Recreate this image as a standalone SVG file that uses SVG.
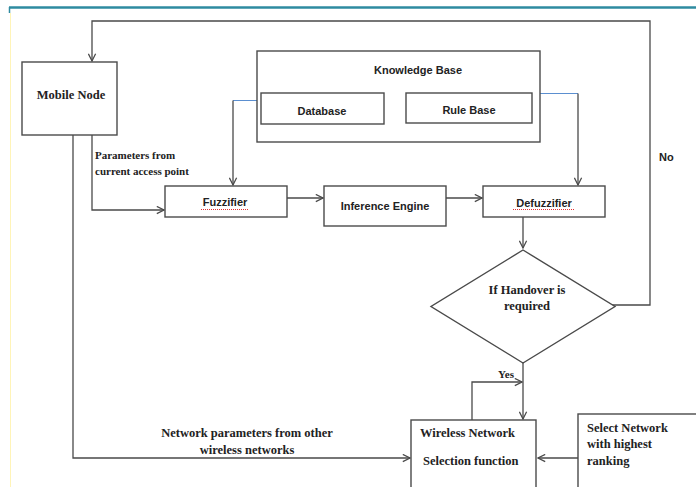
<svg xmlns="http://www.w3.org/2000/svg" width="696" height="487" viewBox="0 0 696 487">
<style>
.box{fill:#fff;stroke:#4a4a4a;stroke-width:1.4}
.ln{fill:none;stroke:#4a4a4a;stroke-width:1.3}
.bl{fill:none;stroke:#5b8fd0;stroke-width:1}
.cal{font-family:"Liberation Sans",Arial,sans-serif;font-weight:bold;font-size:11px;fill:#222}
.tm{font-family:"Liberation Serif","Times New Roman",serif;font-weight:bold;font-size:12.5px;fill:#222}
.sq{fill:none;stroke:#e03030;stroke-width:1;stroke-dasharray:1 1}
</style>
<defs>
<marker id="arr" viewBox="0 0 10 10" refX="9" refY="5" markerWidth="9" markerHeight="9" markerUnits="userSpaceOnUse" orient="auto">
<polyline points="1,1 9,5 1,9" fill="none" stroke="#4a4a4a" stroke-width="1.4"/>
</marker>
</defs>
<rect width="696" height="487" fill="#fff"/>
<line x1="9" y1="7.5" x2="696" y2="7.5" stroke="#2e8ba0" stroke-width="2.5"/>
<line x1="9.5" y1="7" x2="9.5" y2="13" stroke="#2e8ba0" stroke-width="1.5"/>
<line x1="10.5" y1="13" x2="10.5" y2="487" stroke="#fff4b8" stroke-width="1"/>

<g id="connectors">
<path class="ln" d="M612 305 H650 V21 H92 V61" marker-end="url(#arr)"/>
<path class="bl" d="M257 100.5 H233"/>
<path class="ln" d="M233 100.5 V185" marker-end="url(#arr)"/>
<path class="bl" d="M540 93.5 H578"/>
<path class="ln" d="M578 93.5 V185" marker-end="url(#arr)"/>
<path class="ln" d="M287 198 H323" marker-end="url(#arr)"/>
<path class="ln" d="M446 198 H482" marker-end="url(#arr)"/>
<path class="ln" d="M523 217 V248" marker-end="url(#arr)"/>
<path class="ln" d="M92 135 V210 H164" marker-end="url(#arr)"/>
<path class="ln" d="M73 135 V458 H410" marker-end="url(#arr)"/>
<path class="ln" d="M523 363 V419" marker-end="url(#arr)"/>
<path class="ln" d="M472 420 V382 H522" marker-end="url(#arr)"/>
<path class="ln" d="M578 458 H538" marker-end="url(#arr)"/>
<text class="tm" x="95" y="159" style="font-size:11px">Parameters from</text>
<text class="tm" x="95" y="175" style="font-size:11px">current access point</text>
<text class="tm" x="247" y="437" text-anchor="middle" style="font-size:12.5px">Network parameters from other</text>
<text class="tm" x="247" y="454" text-anchor="middle" style="font-size:12.5px">wireless networks</text>
<text class="cal" x="659" y="161">No</text>
<text class="tm" x="506" y="378" text-anchor="middle" style="font-size:11px">Yes</text>
</g>

<g id="mobile-node">
<rect class="box" x="22" y="62" width="95" height="73"/>
<text class="tm" x="71" y="99" text-anchor="middle">Mobile Node</text>
</g>

<g id="knowledge-base">
<rect class="box" x="257" y="51" width="283" height="91"/>
<text class="cal" x="418" y="74" text-anchor="middle">Knowledge Base</text>
</g>

<g id="database">
<rect class="box" x="261" y="93" width="123" height="31"/>
<text class="cal" x="322" y="115" text-anchor="middle">Database</text>
</g>

<g id="rule-base">
<rect class="box" x="406" y="93" width="126" height="30"/>
<text class="cal" x="469" y="114" text-anchor="middle">Rule Base</text>
</g>

<g id="fuzzifier">
<rect class="box" x="165" y="186" width="122" height="31"/>
<text class="cal" x="225" y="206" text-anchor="middle">Fuzzifier</text>
<line class="sq" x1="201" y1="209.5" x2="249" y2="209.5"/>
</g>

<g id="inference-engine">
<rect class="box" x="324" y="186" width="122" height="40"/>
<text class="cal" x="385" y="210" text-anchor="middle">Inference Engine</text>
</g>

<g id="defuzzifier">
<rect class="box" x="483" y="186" width="122" height="31"/>
<text class="cal" x="544" y="207" text-anchor="middle">Defuzzifier</text>
<line class="sq" x1="513" y1="209.5" x2="575" y2="209.5"/>
</g>

<g id="handover-decision">
<polygon class="box" points="523,250 615,306.5 523,363 431,306.5"/>
<text class="tm" x="527" y="294" text-anchor="middle">If Handover is</text>
<text class="tm" x="527" y="310" text-anchor="middle">required</text>
</g>

<g id="wireless-selection">
<rect class="box" x="411" y="420" width="125" height="75"/>
<text class="tm" x="420" y="437">Wireless Network</text>
<text class="tm" x="423" y="465">Selection function</text>
</g>

<g id="select-network">
<rect class="box" x="578" y="414" width="125" height="80"/>
<text class="tm" x="587" y="432">Select Network</text>
<text class="tm" x="587" y="448">with highest</text>
<text class="tm" x="587" y="465">ranking</text>
</g>
</svg>
